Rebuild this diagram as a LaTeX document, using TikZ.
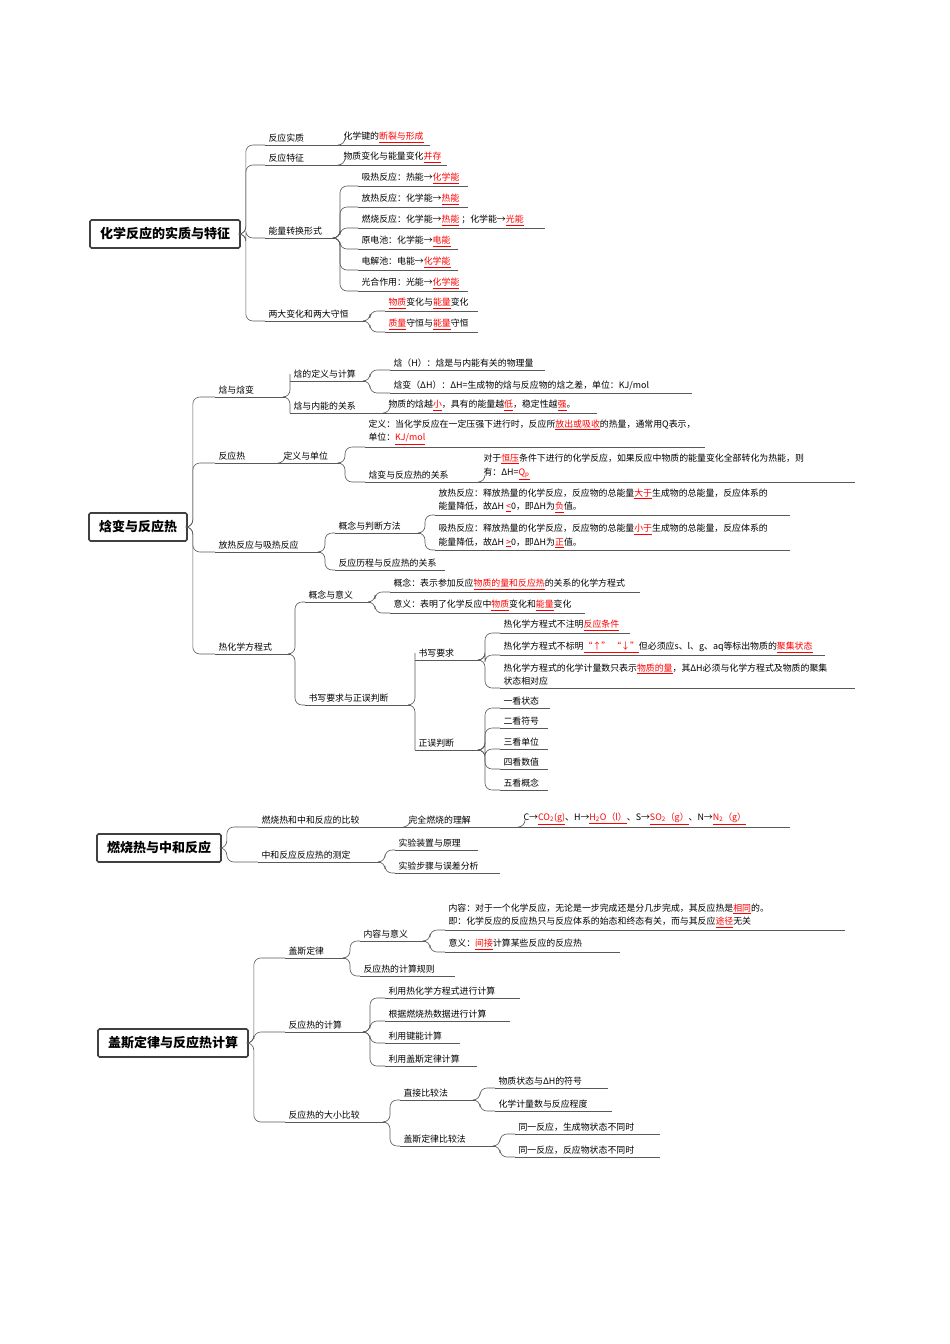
\documentclass[tikz,border=0pt]{standalone}
\usepackage{fontspec}
\setmainfont{Noto Sans CJK SC}
\newcommand\hl[1]{\textcolor{red}{\underline{#1}}}
\newcommand\leaf[5]{\node[leaf] (#1) at (#2,#3) {#5};
  \coordinate (#1-e) at (#4,#3);
  \draw[uline] (#1.south west) -- (#1-e);}
\newcommand\link[2]{\draw[branch] (#1-e) -- ++(5,0) |- (#2.south west);}
\tikzset{
  leaf/.style={anchor=south west, align=left, inner xsep=3.5pt, inner ysep=2.5pt, outer sep=0pt, font=\fontsize{8.9}{13.5}\selectfont},
  uline/.style={draw=black!65, line width=0.6pt},
  branch/.style={draw=black!65, line width=0.6pt, rounded corners=7pt},
  root/.style={draw=black!75, line width=1.6pt, rounded corners=1.5pt, minimum height=28pt, inner xsep=10pt, font=\fontsize{13}{15}\selectfont\bfseries}
}
\begin{document}
\begin{tikzpicture}[x=1pt,y=-1pt]
\useasboundingbox (0,0) rectangle (950,1344);

% section 1
\node[root] (r1) at (165,234) {化学反应的实质与特征};
\coordinate (r1-e) at (r1.east);
\leaf{a1}{265}{145}{340}{反应实质}
\leaf{a1x}{340}{145}{430}{化学键的\hl{断裂与形成}}
\leaf{a2}{265}{165}{340}{反应特征}
\leaf{a2x}{340}{165}{447}{物质变化与能量变化\hl{并存}}
\leaf{a3}{265}{238}{335}{能量转换形式}
\leaf{a31}{358}{186}{468}{吸热反应：热能→\hl{化学能}}
\leaf{a32}{358}{207}{468}{放热反应：化学能→\hl{热能}}
\leaf{a33}{358}{228}{545}{燃烧反应：化学能→\hl{热能} ；化学能→\hl{光能}}
\leaf{a34}{358}{249}{458}{原电池：化学能→\hl{电能}}
\leaf{a35}{358}{270}{458}{电解池：电能→\hl{化学能}}
\leaf{a36}{358}{291}{468}{光合作用：光能→\hl{化学能}}
\leaf{a4}{265}{321}{365}{两大变化和两大守恒}
\leaf{a41}{385}{311}{478}{\hl{物质}变化与\hl{能量}变化}
\leaf{a42}{385}{332}{478}{\hl{质量}守恒与\hl{能量}守恒}
\foreach \c in {a1,a2,a3,a4} {\link{r1}{\c}}
\link{a1}{a1x} \link{a2}{a2x}
\foreach \c in {a31,a32,a33,a34,a35,a36} {\link{a3}{\c}}
\link{a4}{a41} \link{a4}{a42}

% section 2
\node[root] (r2) at (138,527) {焓变与反应热};
\coordinate (r2-e) at (r2.east);
\leaf{b1}{215}{397}{285}{焓与焓变}
\leaf{b11}{290}{381}{365}{焓的定义与计算}
\leaf{b111}{390}{370}{545}{焓（H）：焓是与内能有关的物理量}
\leaf{b112}{390}{393}{692}{焓变（ΔH）：ΔH=生成物的焓与反应物的焓之差，单位：KJ/mol}
\leaf{b12}{290}{413}{385}{焓与内能的关系}
\leaf{b12x}{385}{413}{597}{物质的焓越\hl{小}，具有的能量越\hl{低}，稳定性越\hl{强}。}
\leaf{b2}{215}{463}{280}{反应热}
\leaf{b2x}{280}{463}{340}{定义与单位}
\leaf{b21}{365}{447}{705}{定义：当化学反应在一定压强下进行时，反应所\hl{放出或吸收}的热量，通常用Q表示，\\单位：\hl{KJ/mol}}
\leaf{b22}{365}{482}{480}{焓变与反应热的关系}
\leaf{b22x}{480}{482}{855}{对于\hl{恒压}条件下进行的化学反应，如果反应中物质的能量变化全部转化为热能，则\\有：ΔH=\hl{Q\textsubscript{p}}}
\leaf{b3}{215}{552}{320}{放热反应与吸热反应}
\leaf{b31}{335}{533}{420}{概念与判断方法}
\leaf{b311}{435}{515}{790}{放热反应：释放热量的化学反应，反应物的总能量\hl{大于}生成物的总能量，反应体系的\\能量降低，故ΔH \hl{<}0，即ΔH为\hl{负}值。}
\leaf{b312}{435}{550}{790}{吸热反应：释放热量的化学反应，反应物的总能量\hl{小于}生成物的总能量，反应体系的\\能量降低，故ΔH \hl{>}0，即ΔH为\hl{正}值。}
\leaf{b32}{335}{570}{445}{反应历程与反应热的关系}
\leaf{b4}{215}{654}{290}{热化学方程式}
\leaf{b41}{305}{602}{370}{概念与意义}
\leaf{b411}{390}{592}{640}{概念：表示参加反应\hl{物质的量和反应热}的关系的化学方程式}
\leaf{b412}{390}{613}{585}{意义：表明了化学反应中\hl{物质}变化和\hl{能量}变化}
\leaf{b42}{305}{705}{410}{书写要求与正误判断}
\leaf{b421}{415}{660}{480}{书写要求}
\leaf{b4211}{500}{633}{630}{热化学方程式不注明\hl{反应条件}}
\leaf{b4212}{500}{655}{825}{热化学方程式不标明\hl{“↑” “↓”}但必须应s、l、g、aq等标出物质的\hl{聚集状态}}
\leaf{b4213}{500}{688}{855}{热化学方程式的化学计量数只表示\hl{物质的量}，其ΔH必须与化学方程式及物质的聚集\\状态相对应}
\leaf{b422}{415}{750}{480}{正误判断}
\leaf{b4221}{500}{708}{550}{一看状态}
\leaf{b4222}{500}{728}{548}{二看符号}
\leaf{b4223}{500}{749}{548}{三看单位}
\leaf{b4224}{500}{769}{548}{四看数值}
\leaf{b4225}{500}{790}{548}{五看概念}
\foreach \c in {b1,b2,b3,b4} {\link{r2}{\c}}
\link{b1}{b11} \link{b1}{b12} \link{b11}{b111} \link{b11}{b112} \link{b12}{b12x}
\link{b2}{b2x} \link{b2x}{b21} \link{b2x}{b22} \link{b22}{b22x}
\link{b3}{b31} \link{b3}{b32} \link{b31}{b311} \link{b31}{b312}
\link{b4}{b41} \link{b4}{b42} \link{b41}{b411} \link{b41}{b412}
\link{b42}{b421} \link{b42}{b422}
\foreach \c in {b4211,b4212,b4213} {\link{b421}{\c}}
\foreach \c in {b4221,b4222,b4223,b4224,b4225} {\link{b422}{\c}}

% section 3
\node[root] (r3) at (159,848) {燃烧热与中和反应};
\coordinate (r3-e) at (r3.east);
\leaf{c1}{258}{827}{405}{燃烧热和中和反应的比较}
\leaf{c1x}{405}{827}{520}{完全燃烧的理解}
\leaf{c1y}{520}{827}{790}{C→\hl{CO\textsubscript{2}(g)}、H→\hl{H\textsubscript{2}O（l）}、S→\hl{SO\textsubscript{2}（g）}、N→\hl{N\textsubscript{2}（g）}}
\leaf{c2}{258}{862}{380}{中和反应反应热的测定}
\leaf{c21}{395}{850}{478}{实验装置与原理}
\leaf{c22}{395}{873}{500}{实验步骤与误差分析}
\link{r3}{c1} \link{r3}{c2} \link{c1}{c1x} \link{c1x}{c1y}
\link{c2}{c21} \link{c2}{c22}

% section 4
\node[root] (r4) at (173,1043) {盖斯定律与反应热计算};
\coordinate (r4-e) at (r4.east);
\leaf{d1}{285}{958}{345}{盖斯定律}
\leaf{d11}{360}{941}{425}{内容与意义}
\leaf{d111}{445}{930}{845}{内容：对于一个化学反应，无论是一步完成还是分几步完成，其反应热是\hl{相同}的。\\即：化学反应的反应热只与反应体系的始态和终态有关，而与其反应\hl{途径}无关}
\leaf{d112}{445}{952}{620}{意义：\hl{间接}计算某些反应的反应热}
\leaf{d12}{360}{976}{455}{反应热的计算规则}
\leaf{d2}{285}{1032}{365}{反应热的计算}
\leaf{d21}{385}{998}{520}{利用热化学方程式进行计算}
\leaf{d22}{385}{1021}{510}{根据燃烧热数据进行计算}
\leaf{d23}{385}{1043}{460}{利用键能计算}
\leaf{d24}{385}{1066}{477}{利用盖斯定律计算}
\leaf{d3}{285}{1122}{385}{反应热的大小比较}
\leaf{d31}{400}{1100}{475}{直接比较法}
\leaf{d311}{495}{1088}{608}{物质状态与ΔH的符号}
\leaf{d312}{495}{1111}{612}{化学计量数与反应程度}
\leaf{d32}{400}{1146}{495}{盖斯定律比较法}
\leaf{d321}{515}{1134}{660}{同一反应，生成物状态不同时}
\leaf{d322}{515}{1157}{660}{同一反应，反应物状态不同时}
\foreach \c in {d1,d2,d3} {\link{r4}{\c}}
\link{d1}{d11} \link{d1}{d12} \link{d11}{d111} \link{d11}{d112}
\foreach \c in {d21,d22,d23,d24} {\link{d2}{\c}}
\link{d3}{d31} \link{d3}{d32} \link{d31}{d311} \link{d31}{d312}
\link{d32}{d321} \link{d32}{d322}
\end{tikzpicture}
\end{document}
